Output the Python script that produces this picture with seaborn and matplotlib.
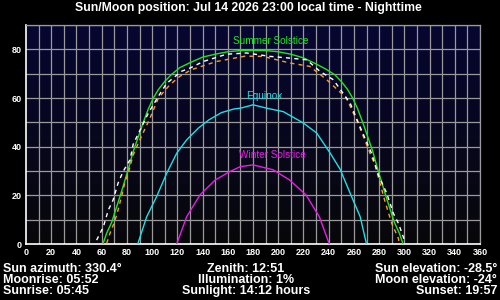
import numpy as np
import pandas as pd
import matplotlib
matplotlib.use("Agg")
import matplotlib.pyplot as plt
import seaborn as sns

# ---- data ----
summer_az = [61, 64, 68, 74.5, 81, 85, 89, 93, 97, 101, 105, 110, 115, 122, 130, 140, 150, 160, 170, 180,
             190, 200, 210, 220, 230, 238, 245, 250, 255, 259, 263, 267, 271, 275, 279, 285.5, 292, 296, 299]
summer_el = [0, 4.5, 9, 19.5, 30.5, 38, 44, 50, 55.5, 60, 63.5, 66.8, 69.5, 72.5, 74.5, 76.8, 78, 79, 79.5, 79.6,
             79.5, 79, 78, 76.5, 74, 71.8, 69.5, 66.8, 63.5, 60, 55.5, 50, 44, 38, 30.5, 19.5, 9, 4.5, 0]

equinox_az = [88.6, 95.7, 103.6, 111.5, 119.5, 127.4, 136.6, 145, 155, 165, 170, 180, 191, 204, 220,
              230.5, 241, 249, 257, 265, 270]
equinox_el = [0, 11.2, 19.5, 29, 37.3, 42.8, 47.6, 51, 54, 55.5, 55.8, 57.2, 55.8, 54.4, 49.7,
              45.6, 37.5, 30.8, 20.9, 11.2, 0]

winter_az = [119.5, 127.4, 138, 150, 161.8, 170, 180, 196, 209, 222, 232.6, 240.5]
winter_el = [0, 11.2, 20.2, 26.3, 29.8, 31.8, 32.5, 30.5, 26.3, 20.2, 11.2, 0]

today_az = [56, 61.3, 65.3, 69, 73, 77, 82.5, 85, 97, 105.7, 111.5, 123.4, 130, 140.6, 159, 175, 193.5,
            209, 222.6, 233, 243.7, 257, 265, 274, 279.4, 286, 291.3, 295.3, 300.5]
today_el = [1.6, 7, 14, 18, 25, 29.8, 34.6, 41, 53.8, 61.3, 66, 71, 72.3, 75, 78, 78.5, 77.1,
            76.4, 75.7, 71, 67.5, 57.9, 48, 37.3, 28.4, 20.9, 12.6, 8.5, 1]

moon_az = [64, 66.6, 69.2, 72, 76, 78.5, 81, 85, 89, 98.3, 105, 114, 122, 131, 151, 173.7, 188, 209, 225,
           238.5, 254, 263, 272.8, 276.8, 280.7, 284.7, 290, 295.3, 296]
moon_el = [0.3, 4.4, 7.8, 12, 20, 25.6, 29, 36.6, 41.4, 51.7, 60, 65.4, 68.9, 71.6, 75, 77.2, 77.1, 74.4, 73,
           67.5, 60, 50, 37.3, 32.5, 25, 17.4, 8.5, 2.3, 0]

x_ticks = list(range(0, 361, 20))
y_ticks = [0, 20, 40, 60, 80]

title = "Sun/Moon position: Jul 14 2026 23:00 local time - Nighttime"
left_info = ["Sun azimuth: 330.4°", "Moonrise: 05:52", "Sunrise: 05:45"]
mid_info = ["Zenith: 12:51", "Illumination: 1%", "Sunlight: 14:12 hours"]
right_info = ["Sun elevation: -28.5°", "Moon elevation: -24°", "Sunset: 19:57"]

# ---- style ----
sns.set_style("dark")
plt.rcParams['font.family'] = ['Liberation Sans', 'DejaVu Sans']

W, H = 500, 300
fig = plt.figure(figsize=(5, 3), dpi=100, facecolor="black")
L, R, T, B = 26, 480, 25, 244
ax = fig.add_axes([L / W, 1 - B / H, (R - L) / W, (B - T) / H])
ax.set_facecolor("black")

# gradient background
grad = np.linspace(0, 1, 256).reshape(-1, 1)
top = np.array([6, 6, 50]) / 255
bot = np.array([8, 8, 10]) / 255
img = (top[None, None, :] * grad[:, :, None] + bot[None, None, :] * (1 - grad[:, :, None]))
ax.imshow(img, extent=[0, 360, 0, 90], origin="lower", aspect="auto", zorder=0)

ax.set_xlim(0, 360)
ax.set_ylim(0, 90)
ax.set_xticks(x_ticks)
ax.set_xticks(range(0, 361, 10), minor=True)
ax.set_yticks(y_ticks)
ax.set_yticks(range(0, 91, 10), minor=True)
ax.grid(False)
for xv in range(10, 361, 10):
    ax.axvline(xv, color="#9a9a9a", lw=0.9, zorder=1)
for yv in range(10, 91, 10):
    ax.axhline(yv, color="#9a9a9a", lw=0.9, zorder=1)

def draw(az, el, color, dashed=False):
    df = pd.DataFrame({"az": az, "el": el})
    sns.lineplot(data=df, x="az", y="el", ax=ax, color=color, lw=1.0, sort=False,
                 estimator=None, zorder=3,
                 linestyle=(0, (3, 3)) if dashed else "-")

draw(equinox_az, equinox_el, "#1ee0e6")
draw(winter_az, winter_el, "#e61ee6")
draw(summer_az, summer_el, "#1ee61e")
draw(moon_az, moon_el, "#ff9c1e", dashed=True)
draw(today_az, today_el, "#ffffff", dashed=True)

ax.text(194, 83.5, "Summer Solstice", color="#1ee61e", fontsize=7.2, ha="center", va="center", zorder=4)
ax.text(188.7, 60.9, "Equinox", color="#1ee0e6", fontsize=7.2, ha="center", va="center", zorder=4)
ax.text(195.5, 36.5, "Winter Solstice", color="#e61ee6", fontsize=7.2, ha="center", va="center", zorder=4)

ax.set_xlabel("")
ax.set_ylabel("")
for s in ["left", "bottom"]:
    ax.spines[s].set_color("white")
    ax.spines[s].set_linewidth(1.2)
for s in ["top", "right"]:
    ax.spines[s].set_color("#9a9a9a")
    ax.spines[s].set_linewidth(0.9)
ax.tick_params(which="both", direction="in", color="white", length=4, width=1,
               labelcolor="white", labelsize=6.5, pad=3)
ax.tick_params(which="minor", labelbottom=False, labelleft=False)
for lab in ax.get_xticklabels() + ax.get_yticklabels():
    lab.set_fontweight("bold")

fig.text(0.497, 1 - 8 / H, title, color="white", fontsize=8.8, fontweight="bold", ha="center", va="center")

ys = [269, 280, 291]
for i in range(3):
    y = 1 - ys[i] / H
    fig.text(3 / W, y, left_info[i], color="white", fontsize=9, fontweight="bold", ha="left", va="center")
    fig.text(246 / W, y, mid_info[i], color="white", fontsize=9, fontweight="bold", ha="center", va="center")
    fig.text(497 / W, y, right_info[i], color="white", fontsize=9, fontweight="bold", ha="right", va="center")

fig.savefig("out.png", dpi=100, facecolor="black")
